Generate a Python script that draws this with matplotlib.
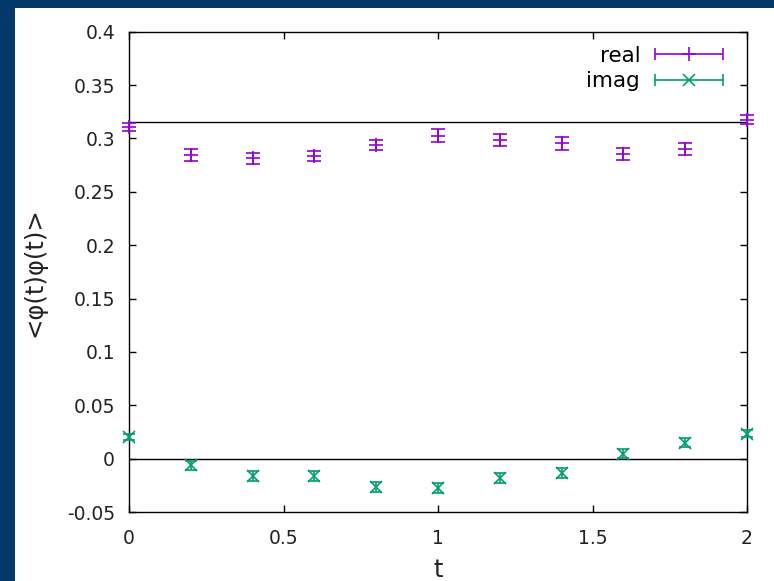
import numpy as np
import matplotlib
matplotlib.use("Agg")
import matplotlib.pyplot as plt
from matplotlib.patches import Rectangle
from matplotlib.container import ErrorbarContainer
from matplotlib.legend_handler import HandlerErrorbar

t = [0.0, 0.2, 0.4, 0.6, 0.8, 1.0, 1.2, 1.4, 1.6, 1.8, 2.0]
real_vals = [0.3105, 0.2843, 0.2815, 0.2838, 0.2936, 0.3024, 0.2988, 0.2955, 0.2854, 0.2899, 0.3175]
real_err = [0.004, 0.0055, 0.005, 0.0045, 0.0047, 0.006, 0.0058, 0.006, 0.0058, 0.0055, 0.004]
imag_vals = [0.0200, -0.0063, -0.0166, -0.0166, -0.0265, -0.0278, -0.0178, -0.0134, 0.0044, 0.0147, 0.0234]
imag_err = [0.003, 0.0042, 0.0047, 0.0047, 0.0044, 0.0047, 0.0047, 0.0047, 0.0042, 0.0042, 0.003]
ref_level = 0.3155
x_ticks = [0, 0.5, 1, 1.5, 2]
x_tick_labels = ["0", "0.5", "1", "1.5", "2"]
y_ticks = [-0.05, 0, 0.05, 0.1, 0.15, 0.2, 0.25, 0.3, 0.35, 0.4]
y_tick_labels = ["-0.05", "0", "0.05", "0.1", "0.15", "0.2", "0.25", "0.3", "0.35", "0.4"]

W, H = 774, 581
fig = plt.figure(figsize=(W / 100, H / 100), dpi=100, facecolor="#03386b")
fig.patches.append(Rectangle((15 / W, 0), 1 - 15 / W, 1 - 8 / H, transform=fig.transFigure,
                             facecolor="white", edgecolor="none", zorder=-10))
ax = fig.add_axes([129 / W, 1 - 512 / H, (747 - 129) / W, (512 - 31.7) / H])
ax.set_zorder(1)
ax.set_facecolor("white")

purple = "#9400D3"
green = "#009E73"

ax.axhline(0, color="black", lw=1.0, zorder=1)
ax.axhline(ref_level, color="black", lw=1.0, zorder=1)

ax.errorbar(t, real_vals, yerr=real_err, fmt="+", color=purple, ms=10, mew=1.2,
            elinewidth=1.2, capsize=4.7, capthick=1.2, clip_on=False, zorder=3)
ax.errorbar(t, imag_vals, yerr=imag_err, fmt="x", color=green, ms=8, mew=1.2,
            elinewidth=1.2, capsize=4.2, capthick=1.2, clip_on=False, zorder=3)

# legend proxies (horizontal error-bar samples, gnuplot style)
p1 = ax.errorbar([np.nan], [np.nan], xerr=[0.1], fmt="+", color=purple, ms=10, mew=1.2,
                 elinewidth=1.2, capsize=4.5, capthick=1.2, label="real")
p2 = ax.errorbar([np.nan], [np.nan], xerr=[0.1], fmt="x", color=green, ms=8, mew=1.2,
                 elinewidth=1.2, capsize=4.5, capthick=1.2, label="imag")
leg = ax.legend(handles=[p1, p2], loc="upper right", bbox_to_anchor=(0.984, 1.0),
                frameon=False, markerfirst=False, fontsize=15.5, handlelength=3.15,
                handletextpad=0.7, labelspacing=0.25, borderaxespad=0.25,
                handler_map={ErrorbarContainer: HandlerErrorbar(xerr_size=1.58)})

ax.set_xlim(0, 2)
ax.set_ylim(-0.05, 0.4)
ax.set_xticks(x_ticks)
ax.set_xticklabels(x_tick_labels)
ax.set_yticks(y_ticks)
ax.set_yticklabels(y_tick_labels)
ax.tick_params(direction="in", length=5, width=1, top=True, right=True,
               labelsize=13.5, colors="black", labelcolor="#222222")
ax.tick_params(axis="x", pad=12.5)
ax.tick_params(axis="y", pad=10)
for s in ax.spines.values():
    s.set_linewidth(1.0)

ax.set_xlabel("t", fontsize=17.5, color="#222222", labelpad=7)
ax.set_ylabel("<φ(t)φ(t)>", fontsize=17.5, color="#222222", labelpad=15)

fig.savefig("out.png", dpi=100, facecolor=fig.get_facecolor())
